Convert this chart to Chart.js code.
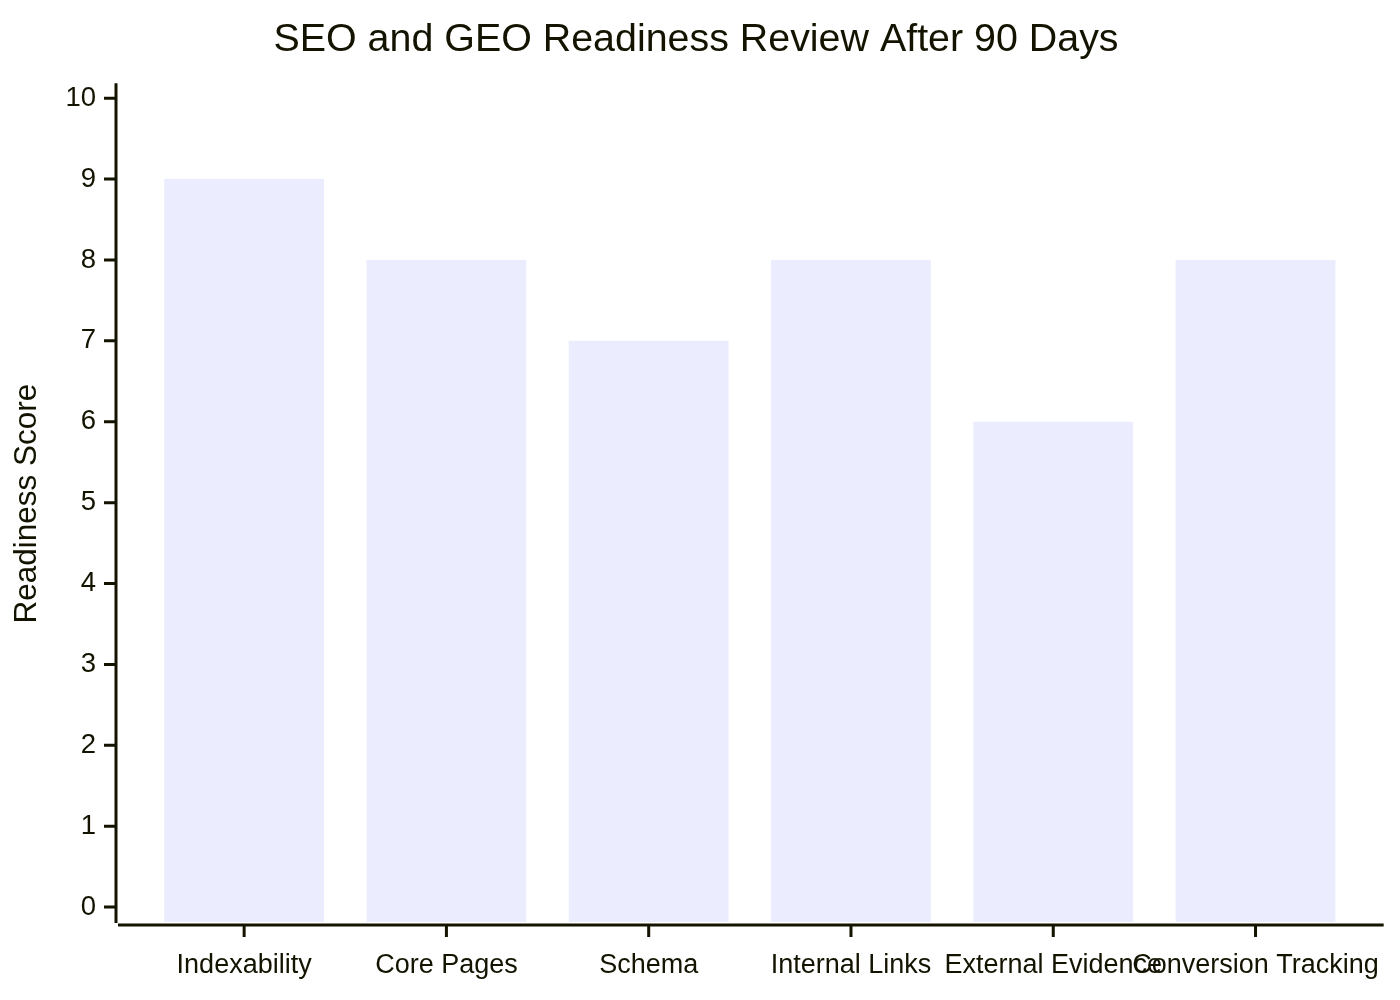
<!DOCTYPE html>
<html>
<head>
  <title>SEO and GEO Readiness Review</title>
  <script src="https://cdn.jsdelivr.net/npm/chart.js"></script>
  <style>
    body {
      margin: 0;
      background: white;
    }

    #wrap {
      width: 1400px;
      height: 1000px;
    }
  </style>
</head>
<body>

  <div id="wrap">
    <canvas id="readinessChart" width="1400" height="1000"></canvas>
  </div>

  <script>
    const categories = ['Indexability', 'Core Pages', 'Schema', 'Internal Links', 'External Evidence', 'Conversion Tracking'];
    const scores = [9, 8, 7, 8, 6, 8];
    const yTickValues = [0, 1, 2, 3, 4, 5, 6, 7, 8, 9, 10];
    const yMin = -0.185;
    const yMax = 10.16;

    const inkColor = '#131300';
    const barColor = '#ECECFF';
    const fontName = "'Liberation Sans', Arial, sans-serif";

    // axis lines sit a little away from the plot, drawn here
    const offsetAxes = {
      id: 'offsetAxes',
      afterDatasetsDraw(chart) {
        const { ctx, chartArea } = chart;
        const xs = chart.scales.x;
        const ys = chart.scales.y;
        const axisX = chartArea.left - 27;
        const axisY = chartArea.bottom + 3;
        ctx.save();
        ctx.strokeStyle = inkColor;
        ctx.lineWidth = 3;
        ctx.beginPath();
        ctx.moveTo(axisX, chartArea.top - 2);
        ctx.lineTo(axisX, chartArea.bottom + 1);
        ctx.moveTo(chartArea.left - 25, axisY);
        ctx.lineTo(chartArea.right + 27, axisY);
        ys.ticks.forEach(t => {
          const py = ys.getPixelForValue(t.value);
          ctx.moveTo(axisX - 12, py);
          ctx.lineTo(axisX, py);
        });
        xs.ticks.forEach((t, i) => {
          const px = xs.getPixelForTick(i);
          ctx.moveTo(px, axisY);
          ctx.lineTo(px, axisY + 12);
        });
        ctx.stroke();
        ctx.restore();
      }
    };

    const ctx = document.getElementById('readinessChart').getContext('2d');
    const readinessChart = new Chart(ctx, {
      type: 'bar',
      data: {
        labels: categories,
        datasets: [{
          label: 'Readiness Score',
          data: scores,
          base: yMin,
          backgroundColor: barColor,
          borderWidth: 0,
          barPercentage: 0.79,
          categoryPercentage: 1
        }]
      },
      options: {
        responsive: false,
        animation: false,
        layout: {
          padding: { left: 18, right: 26, top: 0, bottom: 0 }
        },
        plugins: {
          legend: { display: false },
          tooltip: { enabled: false },
          title: {
            display: true,
            text: 'SEO and GEO Readiness Review After 90 Days',
            color: inkColor,
            font: { family: fontName, size: 39.4, weight: 'normal' },
            padding: { top: 17, bottom: 21 }
          }
        },
        scales: {
          x: {
            offset: true,
            grid: { display: false },
            border: { display: false },
            ticks: {
              color: inkColor,
              font: { family: fontName, size: 27 },
              padding: 19,
              maxRotation: 0,
              autoSkip: false
            },
            afterFit(scale) { scale.height = 78; }
          },
          y: {
            min: yMin,
            max: yMax,
            grid: { display: false },
            border: { display: false },
            afterBuildTicks(scale) {
              scale.ticks = yTickValues.map(v => ({ value: v }));
            },
            ticks: {
              color: inkColor,
              font: { family: fontName, size: 27.5 },
              padding: 39
            },
            title: {
              display: true,
              text: 'Readiness Score',
              color: inkColor,
              font: { family: fontName, size: 31.5 },
              padding: { top: -10, bottom: 0 }
            },
            afterFit(scale) { scale.width = 125; }
          }
        }
      },
      plugins: [offsetAxes]
    });
  </script>

</body>
</html>
